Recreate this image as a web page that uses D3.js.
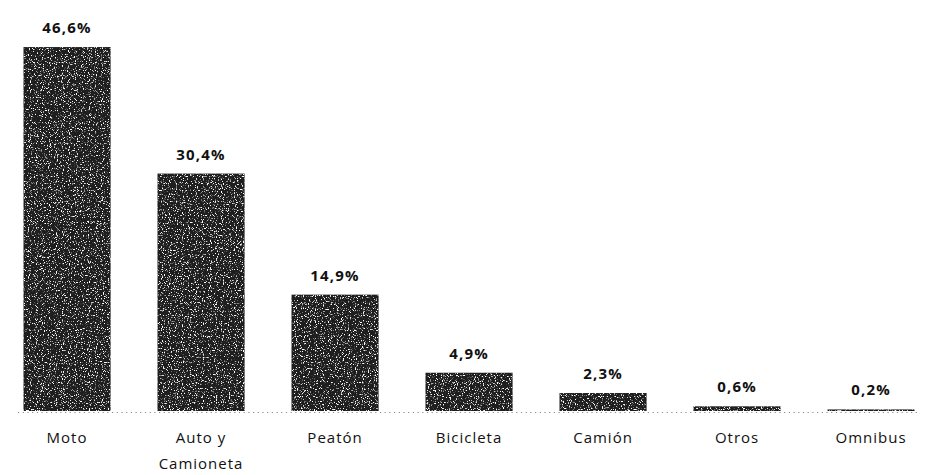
<!DOCTYPE html>
<html>
<head>
<meta charset="utf-8">
<script src="https://cdn.jsdelivr.net/npm/d3@7"></script>
<style>
  html, body { margin: 0; padding: 0; background: #ffffff; }
  svg { display: block; }
</style>
</head>
<body>
<div id="chart"></div>
<script>
const categories = ["Moto", "Auto y\nCamioneta", "Peatón", "Bicicleta", "Camión", "Otros", "Omnibus"];
const values = [46.6, 30.4, 14.9, 4.9, 2.3, 0.6, 0.2];
const valueLabels = ["46,6%", "30,4%", "14,9%", "4,9%", "2,3%", "0,6%", "0,2%"];

const W = 927, H = 475;
const svg = d3.select("#chart").append("svg").attr("width", W).attr("height", H);

const defs = svg.append("defs");
const f = defs.append("filter").attr("id", "grain")
  .attr("x", 0).attr("y", 0).attr("width", 1).attr("height", 1);
f.append("feTurbulence").attr("type", "fractalNoise").attr("baseFrequency", 0.85)
  .attr("numOctaves", 2).attr("seed", 3).attr("result", "n");
f.append("feColorMatrix").attr("in", "n").attr("type", "matrix")
  .attr("values", "0 0 0 0 1  0 0 0 0 1  0 0 0 0 1  7 0 0 0 -4.0").attr("result", "s");
f.append("feComposite").attr("in", "s").attr("in2", "SourceGraphic").attr("operator", "in");

const x = d3.scaleBand().domain(categories).range([23.5, 914.6]).paddingInner(0.35).paddingOuter(0);
const y = d3.scaleLinear().domain([0, 50]).range([411, 20.5]);

// dotted baseline
svg.append("line")
  .attr("x1", 18).attr("x2", 918)
  .attr("y1", y(0) + 1.5).attr("y2", y(0) + 1.5)
  .attr("stroke", "#8a8a8a").attr("stroke-width", 1)
  .attr("stroke-dasharray", "1.2,3.5");

const g = svg.append("g");
g.selectAll("rect.bar").data(values).join("rect")
  .attr("class", "bar")
  .attr("x", (d, i) => x(categories[i]))
  .attr("y", d => y(d))
  .attr("width", x.bandwidth())
  .attr("height", d => y(0) - y(d))
  .attr("fill", "#1e1e1e");

g.selectAll("rect.grain").data(values).join("rect")
  .attr("class", "grain")
  .attr("x", (d, i) => x(categories[i]))
  .attr("y", d => y(d))
  .attr("width", x.bandwidth())
  .attr("height", d => y(0) - y(d))
  .attr("fill", "#ffffff")
  .attr("filter", "url(#grain)");

g.selectAll("text.val").data(values).join("text")
  .attr("class", "val")
  .attr("x", (d, i) => x(categories[i]) + x.bandwidth() / 2)
  .attr("y", d => y(d) - 14)
  .attr("text-anchor", "middle")
  .attr("font-family", "Open Sans, sans-serif")
  .attr("font-weight", "bold")
  .attr("font-size", 15)
  .attr("letter-spacing", 1.2)
  .attr("fill", "#111")
  .text((d, i) => valueLabels[i]);

const lab = g.selectAll("text.cat").data(categories).join("text")
  .attr("class", "cat")
  .attr("x", d => x(d) + x.bandwidth() / 2)
  .attr("y", 443)
  .attr("text-anchor", "middle")
  .attr("font-family", "Open Sans, sans-serif")
  .attr("font-size", 15)
  .attr("letter-spacing", 1)
  .attr("fill", "#111");
lab.each(function(d) {
  const t = d3.select(this);
  d.split("\n").forEach((line, k) => {
    t.append("tspan").attr("x", x(d) + x.bandwidth() / 2).attr("dy", k === 0 ? 0 : 26).text(line);
  });
});
</script>
</body>
</html>
